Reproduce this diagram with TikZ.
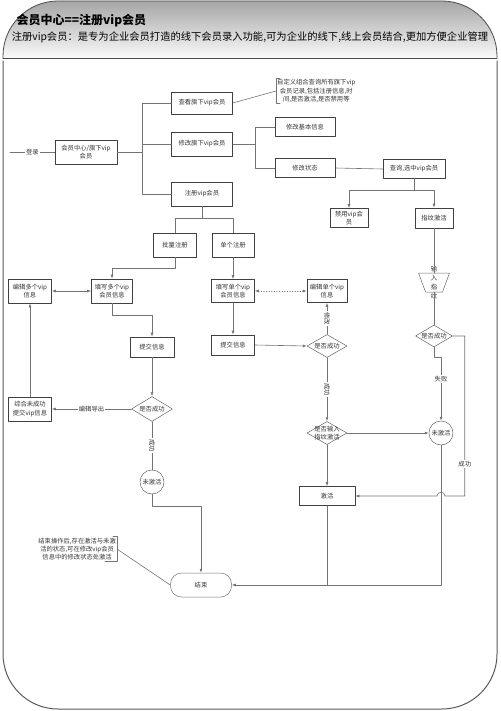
\documentclass[tikz,border=0pt]{standalone}
\usepackage{fontspec}
\setmainfont{Noto Sans CJK SC}
\usetikzlibrary{arrows.meta,shapes.geometric}

\begin{document}
\begin{tikzpicture}[x=1pt,y=-1pt,line cap=round,line join=round,
  box/.style={draw=black!75,line width=.6pt,fill=white,align=center,inner sep=1pt,
    font=\fontsize{6.3}{8.5}\selectfont,text=black!80},
  sz/.style 2 args={minimum width=#1pt,minimum height=#2pt},
  decision/.style={diamond,draw=black!60,line width=.5pt,fill=white,inner sep=0pt},
  state/.style={circle,draw=black!60,line width=.5pt,fill=white,inner sep=0pt,minimum size=24pt},
  term/.style={draw=black!55,line width=.5pt,fill=white,rounded corners=11pt,
    minimum width=61pt,minimum height=24pt},
  lbl/.style={font=\fontsize{6.3}{8.5}\selectfont,text=black!80,align=center,inner sep=1pt},
  note/.style={lbl,font=\fontsize{6.3}{8.3}\selectfont},
  link/.style={draw=black!55,line width=.6pt},
  arr/.style={link,-{Latex[length=4pt,width=3pt]}},
  darr/.style={link,{Latex[length=4pt,width=3pt]}-{Latex[length=4pt,width=3pt]}}]
\useasboundingbox (0,0) rectangle (500,711);

% Page frame with shaded header.
\shadedraw[top color=black!35,bottom color=black!2,draw=black!70,line width=.8pt,
  rounded corners=55pt] (3,58) -- (3,1) -- (497,1) -- (497,58);
\draw[black!70,line width=.8pt] (3,58) -- (497,58);
\draw[black!65,line width=1pt,rounded corners=55pt] (3,61) -- (3,709) -- (497,709) -- (497,61);
\node[anchor=west,font=\bfseries\fontsize{12}{14}\selectfont] (title) at (13,21)
  {会员中心==注册vip会员};
\node[font=\fontsize{10.3}{12}\selectfont] (intro) at (250,37)
  {注册vip会员：是专为企业会员打造的线下会员录入功能,可为企业的线下,线上会员结合,更加方便企业管理};

% Top menu.
\node[box,sz={62}{24}] (hub) at (86,152) {会员中心/旗下vip\\会员};
\node[box,sz={61}{22}] (view) at (202,103) {查看旗下vip会员};
\node[box,sz={61}{24}] (edit) at (202,144) {修改旗下vip会员};
\node[box,sz={61}{24}] (reg) at (202,194) {注册vip会员};
\node[note,anchor=west] (note1) at (276,91)
  {自定义组合查询所有旗下vip\\会员记录,包括注册信息,时\\间,是否激活,是否禁用等};
\node[box,sz={60}{19}] (basic) at (305,127) {修改基本信息};
\node[box,sz={60}{19}] (status) at (305,168) {修改状态};
\node[box,sz={62}{19}] (query) at (414,169) {查询,选中vip会员};
\node[box,sz={38}{19}] (ban) at (349,218) {禁用vip会\\员};
\node[box,sz={38}{20}] (fp) at (434,218) {指纹激活};
% manual input: fingerprint
\coordinate (inpn) at (434,273);
\coordinate (inps) at (434,292);
\draw[draw=black!60,line width=.5pt,fill=white] ([xshift=-15.5pt]inpn) -- ([xshift=15.5pt]inpn)
  -- ([xshift=8.5pt]inps) -- ([xshift=-8.5pt]inps) -- cycle;
\node[lbl,font=\fontsize{6.3}{9}\selectfont] (inp) at (434,283) {输\\入\\指\\纹};
\node[decision,sz={37}{22},label={[lbl]center:是否成功}] (dec4) at (434,336) {};
\node[state] (inact2) at (441,433) {};
\node[lbl] at (inact2) {未激活};

% Registration branch.
\node[box,sz={43}{24}] (batch) at (175,245) {批量注册};
\node[box,sz={42}{24}] (single) at (233,245) {单个注册};
\node[box,sz={41}{24}] (multi) at (112,291) {填写多个vip\\会员信息};
\node[box,sz={43}{24}] (editm) at (30,291) {编辑多个vip\\信息};
\node[box,sz={44}{20}] (sub1) at (152,347) {提交信息};
\node[decision,sz={41}{25},label={[lbl]center:是否成功}] (dec1) at (152,409) {};
\node[box,sz={43}{24}] (summ) at (30,409) {综合未成功\\提交vip信息};
\node[state] (inact1) at (152,482) {};
\node[lbl] at (inact1) {未激活};
\node[term] (end) at (201,585) {};
\node[lbl] at (end) {结束};
\node[note,anchor=east] (note2) at (117,549)
  {结束操作后,存在激活与未激\\活的状态,可在修改vip会员\\信息中的修改状态处激活};
\node[box,sz={43}{23}] (fill1) at (233,291) {填写单个vip\\会员信息};
\node[box,sz={40}{23}] (edits) at (327,291) {编辑单个vip\\信息};
\node[box,sz={43}{20}] (sub2) at (233,345) {提交信息};
\node[decision,sz={40}{23},label={[lbl]center:是否成功}] (dec2) at (327,346) {};
\node[decision,sz={40}{23},label={[lbl]center:是否输入\\指纹激活}] (dec3) at (327,433) {};
\node[box,sz={56}{19}] (act) at (327,496) {激活};

% Brackets of the two notes.
\draw[link] ([xshift=4pt]note1.north west) -- (note1.north west) -- (note1.south west)
  -- ([xshift=4pt]note1.south west);
\draw[link] ([xshift=-4pt]note2.north east) -- (note2.north east) -- (note2.south east)
  -- ([xshift=-12pt]note2.south east);

% Menu connectors.
\coordinate (login) at (10,152);
\draw[link] (login) -- (hub.west) node[midway,fill=white,lbl]{登录};
\path (hub.east) ++(25,0) coordinate (bus);
\draw[link] (hub.east) -- (bus);
\draw[link] (view.west) -| (bus) |- (reg.west);
\draw[link] (edit.west) -- (edit.west -| bus);
\draw[link] (view.east) -- (note1.west);
\path (edit.east) ++(22,0) coordinate (bus2);
\draw[link] (edit.east) -- (bus2);
\draw[link] (basic.west) -| (bus2) |- (status.west);
\draw[link] (status.east) -- (query.west);
\draw[link] (query.south) -- ++(0,12) coordinate (fork);
\draw[arr] (fork) -| (ban.north);
\draw[arr] (fork) -| (fp.north);
\draw[link] (fp.south) -- (inpn);
\draw[link] (inps) -- (dec4.north);
\coordinate (hop) at (inact2.south |- act.east);
\draw[arr] (dec4.east) -- ++(12,0) coordinate (ok4) -- (ok4 |- act.east)
  node[pos=.8,fill=white,lbl]{成功}
  -- ([xshift=4pt]hop) .. controls ([xshift=4pt,yshift=5pt]hop) and ([xshift=-4pt,yshift=5pt]hop)
  .. ([xshift=-4pt]hop) -- (act.east);
\draw[arr] (dec4.south) -- ++(0,10) -| (inact2.north) node[pos=.67,fill=white,lbl]{失败};
\draw[arr] (inact2.south) |- (end.east);
\draw[link] (act.south) -- (act.south |- end.east);

% Registration connectors.
\draw[link] (reg.south) -- ++(0,12) coordinate (fork2);
\draw[link] (batch.north) |- (fork2) -| (single.north);
\draw[arr] (batch.south) -- ++(0,11) -| (multi.north);
\draw[darr] (editm.east) -- (multi.west);
\draw[arr] (multi.south) -- ++(0,12) -| (sub1.north);
\draw[arr] (sub1.south) -- (dec1.north);
\draw[arr] (dec1.west) -- (summ.east) node[midway,fill=white,lbl]{编辑导出};
\draw[arr] (summ.north) -- (editm.south);
\draw[link] (dec1.south) -- (inact1.north) node[midway,fill=white,lbl,rotate=-90]{成功};
\draw[arr] (inact1.south) -- ++(0,12) -| (end.north);
\draw[link] (note2.east) -- (end.west);
\draw[arr] (single.south) -- (fill1.north);
\draw[darr,dotted] (fill1.east) -- (edits.west);
\draw[arr] (fill1.south) -- (sub2.north);
\draw[arr] (sub2.east) -- (dec2.west);
\draw[arr] (dec2.north) -- (edits.south) node[midway,fill=white,lbl,rotate=-90]{修改};
\draw[arr] (dec2.south) -- (dec3.north) node[midway,fill=white,lbl,rotate=-90]{成功};
\draw[arr] (dec3.east) -- (inact2.west);
\draw[arr] (dec3.south) -- (act.north);
\end{tikzpicture}
\end{document}
